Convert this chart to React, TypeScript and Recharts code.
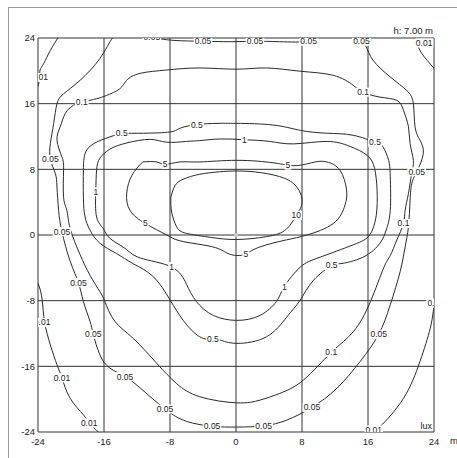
import { ComposedChart, Line, Scatter, XAxis, YAxis, CartesianGrid, ReferenceDot } from 'recharts'

type P = [number, number]

const ticks = [-24, -16, -8, 0, 8, 16, 24]

// isolux lines, metres from the luminaire
const iso10: P[] = [
  [-7.9, 4.6], [-7.4, 6.0], [-6.4, 6.8], [-4.4, 7.4], [-2, 7.7], [0.1, 7.8], [3, 7.6], [5.9, 6.9],
  [7.4, 5.8], [8.0, 4.4], [7.8, 3.2], [7.3, 2.4], [6.1, 0.7], [3.7, -0.2], [0.1, -0.55], [-3, -0.3],
  [-6.0, 0.2], [-7.2, 1.0], [-7.8, 2.8], [-7.9, 4.6],
]
const iso5: P[] = [
  [-11.3, 8.9], [-9.6, 8.9], [-8.6, 8.6], [-6.8, 8.9], [-4.4, 8.9], [0.1, 9.1], [4.5, 8.8], [6.3, 8.5],
  [7.8, 8.5], [9.6, 8.9], [11.0, 8.9], [12.6, 7.9], [13.4, 5.5], [13.2, 3.6], [11.8, 1.4], [8.6, 0.0],
  [6.1, -0.6], [2.9, -1.45], [1.2, -2.3], [0.1, -2.5], [-1.1, -2.2], [-2.8, -1.45], [-6.4, -0.8],
  [-8.4, 0.0], [-11.0, 1.4], [-12.85, 3.0], [-13.25, 5.1], [-12.6, 7.3], [-11.3, 8.9],
]
const iso1: P[] = [
  [1.0, 11.6], [4.1, 11.4], [7.0, 11.1], [11.0, 11.4], [13.8, 10.8], [15.9, 9.7], [16.8, 8.1],
  [17.1, 5.5], [17.0, 2.4], [16.2, 0.0], [14.2, -1.2], [10.2, -2.7], [7.8, -3.9], [5.85, -6.3],
  [4.9, -8.1], [2.9, -9.8], [0.1, -10.4], [-2.75, -9.8], [-4.8, -8.1], [-6.0, -6.0], [-7.8, -3.9],
  [-11.6, -2.8], [-13.5, -1.6], [-15.3, -0.4], [-16.1, 0.8], [-16.9, 2.2], [-17.0, 5.25], [-16.9, 7.9],
  [-16.5, 9.35], [-15.3, 10.45], [-13.3, 11.2], [-10.4, 11.65], [-8.4, 11.3], [-6.0, 11.4],
  [-4.4, 11.5], [-1.9, 11.7], [1.0, 11.6],
]
const iso05: P[] = [
  [-13.85, 12.4], [-11.2, 12.4], [-8.0, 12.55], [-6.8, 13.0], [-4.75, 13.45], [-2.3, 13.6], [0.1, 13.6],
  [4.5, 13.4], [7.8, 12.75], [11.0, 12.4], [14.2, 12.15], [16.85, 11.3], [17.85, 10.7], [18.5, 9.1],
  [18.7, 7.1], [18.7, 3.0], [18.2, 0.6], [17.45, -1.0], [15.4, -2.7], [12.6, -3.5], [11.6, -3.7],
  [9.4, -5.5], [7.8, -7.9], [6.15, -10.0], [3.7, -12.4], [0.1, -13.2], [-1.9, -12.8], [-2.8, -12.7],
  [-4.4, -12.4], [-6.4, -10.4], [-8.0, -7.9], [-10.0, -5.1], [-12.45, -3.5], [-14.5, -2.25],
  [-16.5, -1.0], [-17.7, 0.6], [-18.3, 2.2], [-18.5, 4.6], [-18.5, 7.9], [-18.3, 9.9], [-17.3, 11.1],
  [-15.3, 11.95], [-13.85, 12.4],
]
const iso01: P[] = [
  [-18.7, 16.2], [-16.9, 16.6], [-15.7, 17.0], [-14.1, 17.8], [-13.25, 18.85], [-11.6, 19.7],
  [-8.4, 20.1], [-4.4, 20.35], [0.1, 20.2], [3.7, 20.35], [7.8, 19.95], [11.8, 19.45], [14.2, 18.25],
  [15.4, 17.4], [17.45, 16.8], [19.5, 16.4], [20.3, 15.2], [20.9, 13.2], [21.1, 11.15], [21.5, 9.1],
  [21.3, 7.5], [20.9, 5.05], [20.5, 3.0], [20.3, 1.4], [19.5, -0.6], [18.7, -2.5], [17.9, -4.0],
  [16.3, -8.1], [14.25, -11.75], [11.55, -14.3], [8.2, -17.65], [5.3, -19.3], [2.95, -20.1],
  [0.1, -20.45], [-4.4, -19.7], [-7.2, -18.1], [-9.6, -15.65], [-12.45, -12.6], [-14.7, -10.5],
  [-15.9, -8.1], [-16.5, -6.9], [-17.7, -4.9], [-18.9, -2.4], [-20.1, 0.8], [-20.5, 3.0], [-20.9, 4.6],
  [-20.9, 7.9], [-21.1, 9.5], [-21.7, 11.55], [-21.3, 13.2], [-20.7, 14.8], [-19.7, 15.8], [-18.7, 16.2],
]
const iso005: P[] = [
  [-13.45, 25.2], [-14.9, 24.1], [-16.5, 21.5], [-18.9, 18.85], [-20.9, 17.2], [-21.7, 16.0],
  [-22.1, 13.6], [-22.5, 11.15], [-22.5, 9.2], [-21.9, 7.5], [-21.7, 5.85], [-21.5, 3.0], [-21.1, 0.4],
  [-20.1, -3.2], [-19.1, -5.8], [-18.5, -8.1], [-17.7, -10.5], [-17.3, -12.1], [-16.5, -14.6],
  [-15.3, -16.2], [-13.45, -17.25], [-11.6, -18.65], [-8.6, -21.2], [-6.0, -22.7], [-2.9, -23.3],
  [0.1, -23.4], [3.35, -23.25], [6.15, -22.55], [9.2, -21.0], [12.25, -18.65], [15.05, -15.4],
  [17.3, -12.1], [18.7, -8.5], [19.9, -4.45], [20.5, -1.45], [20.9, 1.0], [21.1, 4.2], [21.3, 6.25],
  [21.9, 7.7], [22.7, 9.9], [22.3, 11.55], [21.7, 13.2], [21.5, 16.0], [20.7, 17.6], [18.7, 19.25],
  [16.6, 21.3], [15.8, 22.9], [15.2, 23.6], [14.7, 24.45], [12.6, 25.2], [10.2, 24.45], [8.8, 23.6],
  [5.3, 23.55], [2.3, 23.6], [-0.7, 23.55], [-4.0, 23.6], [-7.4, 23.7], [-9.4, 23.9], [-10.4, 23.95],
  [-11.6, 24.45], [-13.45, 25.2],
]
const iso001TL: P[] = [[-21.1, 25.2], [-21.55, 24.1], [-22.5, 22.5], [-23.3, 20.9], [-23.75, 20.1], [-23.8, 19.2], [-24.1, 17.9], [-25, 16.4]]
const iso001TR: P[] = [[21.3, 25], [21.7, 24.1], [22.4, 22.3], [24.0, 20.3], [24.7, 19.1]]
const iso001BL: P[] = [
  [-25, -4.3], [-24.0, -5.9], [-23.5, -7.9], [-23.2, -10.6], [-22.5, -13.4], [-21.7, -15.8], [-21.1, -17.4],
  [-20.1, -19.9], [-18.5, -21.9], [-17.8, -22.9], [-16.7, -24.0], [-16.0, -25],
]
const iso001BR: P[] = [[16, -25], [16.7, -23.9], [17.5, -23.3], [20.3, -19.9], [22.3, -15.4], [23.55, -11.35], [23.95, -9.1], [24.4, -7.9], [25.3, -6.1]]

// label anchors on each line
const lab10: P[] = [[7.3, 2.4]]
const lab5: P[] = [[-8.6, 8.6], [6.3, 8.5], [-11.0, 1.4], [1.2, -2.3]]
const lab1: P[] = [[1.0, 11.6], [-17.0, 5.25], [-7.8, -3.85], [5.85, -6.3]]
const lab05: P[] = [[-13.85, 12.4], [-4.75, 13.45], [16.85, 11.3], [11.6, -3.7], [-2.8, -12.7]]
const lab01: P[] = [[-18.7, 16.2], [15.4, 17.4], [20.3, 1.4], [11.55, -14.3]]
const lab005: P[] = [
  [-22.5, 9.2], [-21.1, 0.4], [-19.1, -5.8], [-17.3, -12.1], [-13.45, -17.25], [-8.6, -21.2], [-2.9, -23.3],
  [3.35, -23.25], [9.2, -21.0], [17.3, -12.1], [21.9, 7.7], [15.2, 23.6], [8.8, 23.6], [2.3, 23.6],
  [-4.0, 23.6], [-10.2, 24.1],
]
const lab001: P[] = [[-23.8, 19.2], [22.8, 23.4], [-23.5, -10.65], [-21.1, -17.4], [-17.8, -22.9], [16.7, -23.75], [24.2, -8.3]]

const lines = [iso10, iso5, iso1, iso05, iso01, iso005, iso001TL, iso001TR, iso001BL, iso001BR]
const labelSets: [string, P[]][] = [
  ['10', lab10], ['5', lab5], ['1', lab1], ['0.5', lab05], ['0.1', lab01], ['0.05', lab005], ['0.01', lab001],
]

const FONT = "Arial, 'Liberation Sans', sans-serif"
const toPts = (a: P[]) => a.map(([x, y]) => ({ x, y }))
const labelData = labelSets.flatMap(([t, a]) => a.map(([x, y]) => ({ x, y, t })))

function IsoLabel(props: any) {
  const { cx, cy } = props
  const t: string = props.payload?.t ?? props.t
  if (cx == null || cy == null || !t) return null
  const dots = t.split('.').length - 1
  const w = (t.length - dots) * 4.75 + dots * 2.4 + 2
  return (
    <g>
      <rect x={cx - w / 2} y={cy - 4.5} width={w} height={9} fill="#fff" />
      <text x={cx} y={cy} dy="0.35em" textAnchor="middle" fontSize={8.5} fontFamily={FONT} fill="#222">
        {t}
      </text>
    </g>
  )
}

export default function App() {
  return (
    <div style={{ position: 'absolute', left: 0, top: 0, width: 457, height: 458, overflow: 'hidden', background: '#fff' }}>
      <div style={{ position: 'absolute', left: 8, top: 7, width: 470, height: 470, borderTop: '1px solid #999', borderLeft: '1px solid #999' }} />
      <div style={{ position: 'absolute', left: 0, top: 0 }}>
        <ComposedChart width={457} height={458} margin={{ top: 38, right: 23, bottom: 0, left: 0 }}>
          <CartesianGrid stroke="#333" strokeWidth={1} />
          <XAxis
            type="number"
            dataKey="x"
            domain={[-24, 24]}
            ticks={ticks}
            allowDataOverflow
            height={26}
            axisLine={false}
            tickLine={false}
            tickSize={0}
            tickMargin={6}
            tick={{ fontSize: 9.5, fill: '#222', fontFamily: FONT }}
            interval={0}
          />
          <YAxis
            type="number"
            dataKey="y"
            domain={[-24, 24]}
            ticks={ticks}
            allowDataOverflow
            width={38}
            axisLine={false}
            tickLine={false}
            tickSize={0}
            tickMargin={3}
            tick={{ fontSize: 9.5, fill: '#222', fontFamily: FONT }}
            interval={0}
          />
          {lines.map((pts, i) => (
            <Line
              key={i}
              data={toPts(pts)}
              dataKey="y"
              type="natural"
              stroke="#2a2a2a"
              strokeWidth={1}
              dot={false}
              activeDot={false}
              isAnimationActive={false}
            />
          ))}
          <ReferenceDot x={0} y={0} r={2} fill="#ccc" stroke="none" />
          <Scatter data={labelData} dataKey="y" shape={IsoLabel} isAnimationActive={false} />
        </ComposedChart>
      </div>
      <div style={{ position: 'absolute', right: 24, top: 25, fontSize: 9.5, fontFamily: FONT, color: '#222' }}>h: 7.00 m</div>
      <div style={{ position: 'absolute', right: 25, top: 421, fontSize: 9, fontFamily: FONT, color: '#222' }}>lux</div>
      <div style={{ position: 'absolute', left: 450, top: 435, fontSize: 9.5, fontFamily: FONT, color: '#222' }}>m</div>
    </div>
  )
}
